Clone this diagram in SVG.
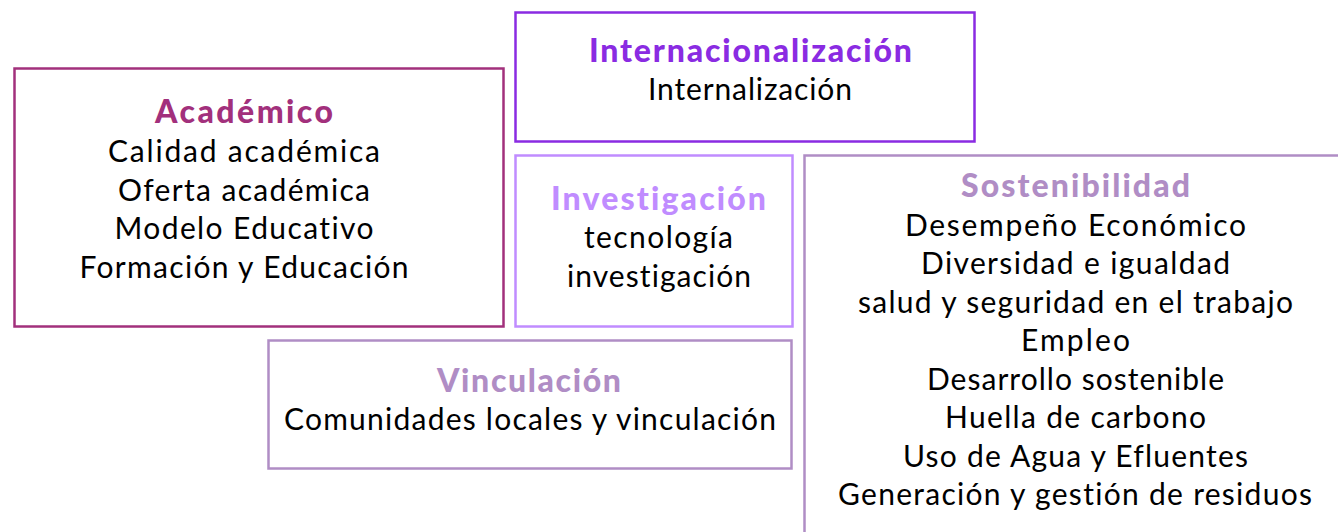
<svg xmlns="http://www.w3.org/2000/svg" width="1338" height="532" viewBox="0 0 1338 532">
<style>
.box{fill:none;stroke-width:2.5}
.t{font-family:Lato,"Noto Sans",sans-serif;font-size:32px;font-weight:900;text-anchor:middle;font-variant-ligatures:none}
.b{font-family:Lato,"Noto Sans",sans-serif;font-size:30px;font-weight:400;fill:#000;text-anchor:middle;font-variant-ligatures:none}
</style>
<rect width="1338" height="532" fill="#fff"/>
<g id="academico">
<rect class="box" x="14.5" y="68.5" width="489" height="258" stroke="#A2307C"/>
<text class="t" x="244" y="123" fill="#A2307C" textLength="178" lengthAdjust="spacing">Académico</text>
<text class="b" x="244" y="162" textLength="272" lengthAdjust="spacing">Calidad académica</text>
<text class="b" x="244" y="200.5" textLength="252" lengthAdjust="spacing">Oferta académica</text>
<text class="b" x="244" y="239" textLength="259" lengthAdjust="spacing">Modelo Educativo</text>
<text class="b" x="244" y="277.5" textLength="329" lengthAdjust="spacing">Formación y Educación</text>
</g>
<g id="internacionalizacion">
<rect class="box" x="515.5" y="12.5" width="459" height="129" stroke="#8A2BE2"/>
<text class="t" x="750.5" y="62" fill="#8A2BE2" textLength="323" lengthAdjust="spacing">Internacionalización</text>
<text class="b" x="750" y="100" textLength="204" lengthAdjust="spacing">Internalización</text>
</g>
<g id="investigacion">
<rect class="box" x="515.5" y="155.5" width="277" height="171" stroke="#C08CFF"/>
<text class="t" x="658.5" y="210" fill="#C08CFF" textLength="215" lengthAdjust="spacing">Investigación</text>
<text class="b" x="658.5" y="248" textLength="149" lengthAdjust="spacing">tecnología</text>
<text class="b" x="659" y="287" textLength="184" lengthAdjust="spacing">investigación</text>
</g>
<g id="vinculacion">
<rect class="box" x="268.5" y="340.5" width="523" height="128" stroke="#B08DC5"/>
<text class="t" x="529" y="392" fill="#B08DC5" textLength="184" lengthAdjust="spacing">Vinculación</text>
<text class="b" x="530" y="430" textLength="492" lengthAdjust="spacing">Comunidades locales y vinculación</text>
</g>
<g id="sostenibilidad">
<rect class="box" x="804.5" y="155.5" width="600" height="450" stroke="#B08DC5"/>
<text class="t" x="1075.5" y="197" fill="#B08DC5" textLength="229" lengthAdjust="spacing">Sostenibilidad</text>
<text class="b" x="1075.5" y="235.5" textLength="341" lengthAdjust="spacing">Desempeño Económico</text>
<text class="b" x="1075.5" y="274" textLength="309" lengthAdjust="spacing">Diversidad e igualdad</text>
<text class="b" x="1075.5" y="312.5" textLength="435" lengthAdjust="spacing">salud y seguridad en el trabajo</text>
<text class="b" x="1075.5" y="351" textLength="109" lengthAdjust="spacing">Empleo</text>
<text class="b" x="1075.5" y="389.5" textLength="297" lengthAdjust="spacing">Desarrollo sostenible</text>
<text class="b" x="1075.5" y="428" textLength="261" lengthAdjust="spacing">Huella de carbono</text>
<text class="b" x="1075.5" y="466.5" textLength="345" lengthAdjust="spacing">Uso de Agua y Efluentes</text>
<text class="b" x="1075" y="505" textLength="474" lengthAdjust="spacing">Generación y gestión de residuos</text>
</g>
<g id="connectors"></g>
</svg>
